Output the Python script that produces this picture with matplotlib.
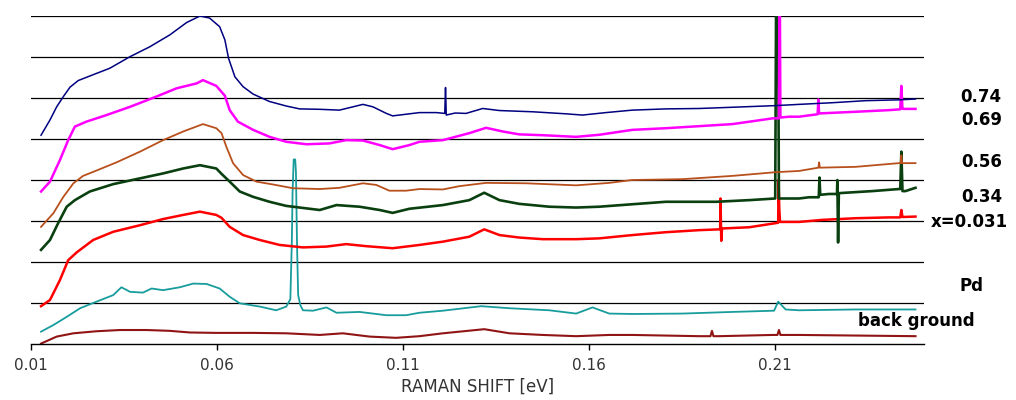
import matplotlib
matplotlib.use("Agg")
import matplotlib.pyplot as plt

# Raman spectra of Pd hydride samples, stacked with vertical offsets (arb. units)
shift_074 = [0.0127, 0.0151, 0.0169, 0.0187, 0.0205, 0.0227, 0.0258, 0.0312, 0.0366, 0.0419,
             0.0473, 0.0518, 0.0554, 0.0580, 0.0607, 0.0621, 0.0631, 0.0648, 0.0670, 0.0697,
             0.0741, 0.0786, 0.0822, 0.0876, 0.0929, 0.0965, 0.0992, 0.1019, 0.1055, 0.1072,
             0.1108, 0.1144, 0.1190, 0.1212, 0.1214, 0.1216, 0.1240, 0.1269, 0.1314, 0.1359,
             0.1448, 0.1538, 0.1582, 0.1645, 0.1716, 0.1806, 0.1896, 0.1985, 0.2101, 0.2164,
             0.2253, 0.2343, 0.2432, 0.2477]
int_074 = [5.09, 5.46, 5.78, 6.03, 6.26, 6.42, 6.53, 6.72, 7.00, 7.24,
           7.53, 7.83, 7.99, 7.94, 7.73, 7.41, 6.96, 6.51, 6.27, 6.09,
           5.91, 5.80, 5.73, 5.72, 5.70, 5.78, 5.84, 5.78, 5.62, 5.56,
           5.60, 5.64, 5.64, 5.62, 6.25, 5.58, 5.63, 5.62, 5.74, 5.69,
           5.66, 5.61, 5.58, 5.64, 5.70, 5.73, 5.74, 5.77, 5.81, 5.84,
           5.88, 5.93, 5.95, 5.97]

shift_069 = [0.0127, 0.0151, 0.0178, 0.0200, 0.0218, 0.0249, 0.0303, 0.0366, 0.0437, 0.0491,
             0.0545, 0.0562, 0.0598, 0.0621, 0.0634, 0.0656, 0.0697, 0.0741, 0.0786, 0.0840,
             0.0902, 0.0947, 0.0992, 0.1037, 0.1072, 0.1117, 0.1144, 0.1207, 0.1278, 0.1323,
             0.1368, 0.1412, 0.1475, 0.1565, 0.1627, 0.1716, 0.1806, 0.1896, 0.1985, 0.2093,
             0.2110, 0.2112, 0.2114, 0.2137, 0.2164, 0.2214, 0.2216, 0.2218, 0.2316, 0.2406,
             0.2436, 0.2439, 0.2442, 0.2477]
int_069 = [3.72, 3.96, 4.49, 4.97, 5.30, 5.42, 5.58, 5.78, 6.03, 6.23,
           6.35, 6.43, 6.29, 6.05, 5.70, 5.42, 5.22, 5.05, 4.93, 4.87,
           4.89, 4.97, 4.96, 4.85, 4.75, 4.85, 4.93, 4.97, 5.14, 5.27,
           5.18, 5.11, 5.09, 5.05, 5.10, 5.22, 5.26, 5.31, 5.36, 5.50,
           5.50, 9.50, 5.52, 5.54, 5.54, 5.60, 5.96, 5.62, 5.66, 5.70,
           5.72, 6.29, 5.73, 5.73]

shift_056 = [0.0127, 0.0160, 0.0187, 0.0214, 0.0240, 0.0276, 0.0330, 0.0393, 0.0455, 0.0509,
             0.0562, 0.0598, 0.0612, 0.0625, 0.0643, 0.0670, 0.0706, 0.0751, 0.0804, 0.0876,
             0.0929, 0.0992, 0.1028, 0.1063, 0.1108, 0.1144, 0.1207, 0.1251, 0.1323, 0.1430,
             0.1565, 0.1654, 0.1716, 0.1850, 0.1985, 0.2101, 0.2164, 0.2216, 0.2218, 0.2220,
             0.2316, 0.2432, 0.2437, 0.2439, 0.2441, 0.2477]
int_056 = [2.86, 3.19, 3.59, 3.92, 4.10, 4.23, 4.43, 4.69, 4.97, 5.18,
           5.36, 5.26, 5.14, 4.81, 4.41, 4.12, 3.96, 3.89, 3.80, 3.78,
           3.81, 3.92, 3.88, 3.74, 3.74, 3.78, 3.77, 3.85, 3.93, 3.92,
           3.87, 3.93, 4.00, 4.02, 4.10, 4.19, 4.22, 4.30, 4.43, 4.30,
           4.32, 4.41, 4.41, 4.60, 4.41, 4.41]

shift_034 = [0.0127, 0.0151, 0.0173, 0.0196, 0.0218, 0.0258, 0.0321, 0.0393, 0.0455, 0.0509,
             0.0554, 0.0598, 0.0612, 0.0634, 0.0661, 0.0697, 0.0741, 0.0786, 0.0840, 0.0876,
             0.0921, 0.0983, 0.1037, 0.1072, 0.1117, 0.1207, 0.1278, 0.1318, 0.1359, 0.1412,
             0.1493, 0.1565, 0.1627, 0.1716, 0.1806, 0.1941, 0.2030, 0.2100, 0.2103, 0.2107,
             0.2110, 0.2164, 0.2191, 0.2217, 0.2219, 0.2221, 0.2245, 0.2266, 0.2267, 0.2269,
             0.2271, 0.2361, 0.2432, 0.2436, 0.2439, 0.2442, 0.2450, 0.2477]
int_034 = [2.30, 2.54, 2.95, 3.35, 3.51, 3.72, 3.90, 4.04, 4.16, 4.28,
           4.36, 4.28, 4.15, 3.96, 3.72, 3.59, 3.47, 3.37, 3.31, 3.27,
           3.39, 3.35, 3.27, 3.20, 3.30, 3.39, 3.51, 3.69, 3.51, 3.42,
           3.35, 3.33, 3.35, 3.41, 3.47, 3.47, 3.51, 3.55, 9.50, 9.50,
           3.55, 3.55, 3.58, 3.58, 4.06, 3.64, 3.66, 3.66, 4.00, 2.48,
           3.68, 3.73, 3.78, 3.78, 4.69, 3.73, 3.73, 3.81]

shift_0031 = [0.0127, 0.0151, 0.0178, 0.0200, 0.0223, 0.0267, 0.0321, 0.0393, 0.0455, 0.0509,
              0.0554, 0.0598, 0.0612, 0.0634, 0.0670, 0.0715, 0.0768, 0.0831, 0.0894, 0.0947,
              0.1001, 0.1072, 0.1144, 0.1207, 0.1278, 0.1318, 0.1359, 0.1412, 0.1475, 0.1565,
              0.1627, 0.1716, 0.1806, 0.1896, 0.1952, 0.1953, 0.1955, 0.1957, 0.2030, 0.2108,
              0.2109, 0.2111, 0.2113, 0.2164, 0.2227, 0.2316, 0.2406, 0.2436, 0.2439, 0.2442,
              0.2477]
int_0031 = [0.93, 1.08, 1.57, 2.05, 2.24, 2.54, 2.74, 2.90, 3.05, 3.15,
            3.23, 3.15, 3.08, 2.86, 2.66, 2.54, 2.42, 2.36, 2.38, 2.44,
            2.39, 2.34, 2.42, 2.50, 2.62, 2.80, 2.66, 2.60, 2.56, 2.56,
            2.58, 2.66, 2.73, 2.78, 2.80, 3.55, 2.52, 2.82, 2.85, 2.96,
            4.00, 3.30, 2.98, 2.98, 3.03, 3.07, 3.09, 3.09, 3.27, 3.10,
            3.11]

shift_pd = [0.0127, 0.0160, 0.0196, 0.0232, 0.0276, 0.0321, 0.0343, 0.0366, 0.0401, 0.0424,
            0.0455, 0.0500, 0.0536, 0.0572, 0.0607, 0.0634, 0.0661, 0.0715, 0.0759, 0.0786,
            0.0797, 0.0801, 0.0803, 0.0806, 0.0810, 0.0812, 0.0815, 0.0818, 0.0824, 0.0831,
            0.0858, 0.0894, 0.0921, 0.0983, 0.1055, 0.1108, 0.1144, 0.1207, 0.1310, 0.1386,
            0.1493, 0.1565, 0.1609, 0.1654, 0.1716, 0.1850, 0.1985, 0.2097, 0.2108, 0.2128,
            0.2164, 0.2316, 0.2477]
int_pd = [0.31, 0.47, 0.67, 0.88, 1.04, 1.20, 1.39, 1.28, 1.26, 1.36,
          1.32, 1.39, 1.48, 1.47, 1.36, 1.16, 1.00, 0.92, 0.83, 0.92,
          1.10, 2.50, 3.70, 4.50, 4.50, 4.20, 2.40, 1.20, 0.95, 0.83,
          0.82, 0.90, 0.77, 0.79, 0.71, 0.71, 0.77, 0.82, 0.93, 0.88,
          0.83, 0.75, 0.90, 0.75, 0.74, 0.75, 0.79, 0.82, 1.04, 0.85,
          0.83, 0.85, 0.85]

shift_bg = [0.0127, 0.0169, 0.0214, 0.0276, 0.0339, 0.0410, 0.0473, 0.0527, 0.0598, 0.0697,
            0.0786, 0.0876, 0.0938, 0.1010, 0.1081, 0.1144, 0.1207, 0.1318, 0.1386, 0.1475,
            0.1565, 0.1654, 0.1716, 0.1896, 0.1926, 0.1930, 0.1934, 0.1949, 0.2093, 0.2106,
            0.2110, 0.2114, 0.2164, 0.2477]
int_bg = [0.02, 0.19, 0.27, 0.32, 0.35, 0.35, 0.33, 0.29, 0.28, 0.28,
          0.27, 0.23, 0.27, 0.19, 0.16, 0.20, 0.27, 0.37, 0.27, 0.23,
          0.20, 0.23, 0.23, 0.20, 0.20, 0.33, 0.20, 0.20, 0.23, 0.23,
          0.35, 0.23, 0.23, 0.20]

x_ticks = [0.01, 0.06, 0.11, 0.16, 0.21]

fig = plt.figure(figsize=(10.16, 4.0), dpi=100)
ax = fig.add_axes([0.0305, 0.139, 0.879, 0.822])

# draw order: background first, the noisy ones with a slightly heavier pen
ax.plot(shift_bg, int_bg, color='#901414', lw=1.5)
ax.plot(shift_pd, int_pd, color='#189c9c', lw=1.3)
ax.plot(shift_0031, int_0031, color='#ff0000', lw=1.8)
ax.plot(shift_034, int_034, color='#0a400f', lw=1.9)
ax.plot(shift_056, int_056, color='#b8501c', lw=1.3)
ax.plot(shift_069, int_069, color='#ff00ff', lw=1.8)
ax.plot(shift_074, int_074, color='#000080', lw=1.1)

ax.set_xlim(0.01, 0.25)
ax.set_ylim(0, 8)
ax.set_xticks(x_ticks)
ax.set_xticklabels([f"{t:.2f}" for t in x_ticks])
ax.set_yticks(range(1, 9))
ax.yaxis.grid(True, color='black', lw=0.9)
ax.set_axisbelow(True)
ax.tick_params(axis='y', left=False, labelleft=False)
ax.tick_params(axis='x', direction='out', length=4, width=1, colors='black',
               labelcolor='#333333', labelsize=11, pad=6)
for side in ['left', 'right', 'top']:
    ax.spines[side].set_visible(False)
ax.spines['bottom'].set_linewidth(1.0)
ax.set_xlabel("RAMAN SHIFT [eV]", fontsize=12, color='#333333', labelpad=3)

# sample labels on the right
lab = dict(fontsize=12, fontweight='bold', color='black', va='center')
fig.text(0.9656, 0.758, "0.74", ha='center', **lab)
fig.text(0.9665, 0.700, "0.69", ha='center', **lab)
fig.text(0.9665, 0.595, "0.56", ha='center', **lab)
fig.text(0.9665, 0.5075, "0.34", ha='center', **lab)
fig.text(0.9163, 0.445, "x=0.031", ha='left', **lab)
fig.text(0.9564, 0.285, "Pd", ha='center', **lab)
fig.text(0.8445, 0.1975, "back ground", ha='left', **lab)

fig.savefig("out.png", dpi=100)
